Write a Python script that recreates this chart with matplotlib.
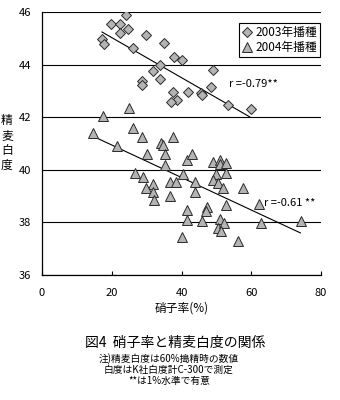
import matplotlib
matplotlib.use("Agg")
import matplotlib.pyplot as plt

plt.rcParams['font.family'] = ['Noto Sans CJK JP', 'DejaVu Sans']

# 2003 sowing (diamonds)
x2003 = [24.1, 19.7, 22.3, 22.3, 24.8, 17.2, 17.8, 26.1, 29.8, 35.0, 37.8, 40.0,
         33.8, 31.8, 33.8, 28.7, 28.7, 37.7, 41.8, 45.6, 45.8, 38.7, 37.0, 48.9,
         48.6, 53.2, 59.9]
y2003 = [45.89, 45.53, 45.53, 45.22, 45.35, 44.97, 44.78, 44.62, 45.11, 44.82, 44.29, 44.17,
         43.97, 43.77, 43.46, 43.36, 43.24, 42.96, 42.96, 42.91, 42.83, 42.67, 42.58, 43.78,
         43.15, 42.45, 42.30]

# 2004 sowing (triangles)
x2004 = [25.0, 17.4, 26.2, 14.6, 21.6, 28.8, 37.7, 34.0, 34.8, 30.0, 35.2, 35.2,
         26.6, 29.0, 31.9, 29.8, 31.8, 32.1, 36.7, 38.3, 36.7, 40.5, 41.5, 43.0,
         41.5, 41.5, 40.2, 49.1, 51.0, 51.1, 52.9, 50.0, 52.9, 49.1, 50.6, 52.0,
         43.9, 43.9, 57.5, 47.2, 47.0, 52.9, 62.3, 46.0, 51.1, 50.4, 52.1, 51.3,
         56.2, 62.8, 74.3]
y2004 = [42.36, 42.03, 41.60, 41.40, 40.89, 41.26, 41.26, 41.03, 40.95, 40.61, 40.61, 40.20,
         39.89, 39.73, 39.45, 39.30, 39.14, 38.84, 39.53, 39.53, 39.02, 39.85, 40.37, 40.59,
         38.48, 38.10, 37.46, 40.31, 40.39, 40.21, 40.26, 39.85, 39.88, 39.60, 39.50, 39.32,
         39.53, 39.15, 39.31, 38.60, 38.44, 38.65, 38.71, 38.06, 38.12, 37.78, 37.97, 37.66,
         37.28, 37.97, 38.06]

# regression lines (end points)
trend03_x = [17.2, 59.6]
trend03_y = [45.24, 42.01]
trend04_x = [14.7, 74.1]
trend04_y = [41.27, 37.60]

series_labels = ['2003年播種', '2004年播種']
r_labels = ['r =-0.79**', 'r =-0.61 **']
xticks = [0, 20, 40, 60, 80]
yticks = [36, 38, 40, 42, 44, 46]

fig = plt.figure(figsize=(3.4, 4.0), dpi=100)
ax = fig.add_axes([42/340, 1-275/400, 279/340, 263/400])

face = '#b4b4b4'
edge = '#2a2a2a'
ax.plot(x2003, y2003, linestyle='none', marker='D', ms=5, mfc=face, mec=edge, mew=0.7,
        label=series_labels[0], zorder=3)
ax.plot(x2004, y2004, linestyle='none', marker='^', ms=7.5, mfc=face, mec=edge, mew=0.7,
        label=series_labels[1], zorder=3)
ax.plot(trend03_x, trend03_y, color='black', lw=0.8, zorder=2)
ax.plot(trend04_x, trend04_y, color='black', lw=0.8, zorder=2)

ax.text(53.6, 43.27, r_labels[0], fontsize=8, va='center', ha='left')
ax.text(63.6, 38.74, r_labels[1], fontsize=8, va='center', ha='left')

ax.set_xlim(0, 80)
ax.set_ylim(36, 46)
ax.set_xticks(xticks)
ax.set_yticks(yticks)
ax.tick_params(axis='x', direction='in', length=3, width=0.8, pad=9, labelsize=8)
ax.tick_params(axis='y', length=0, pad=8, labelsize=8)
ax.yaxis.grid(True, color='black', lw=0.8)
ax.set_axisbelow(True)
for s in ['top', 'right']:
    ax.spines[s].set_visible(False)
for s in ['left', 'bottom']:
    ax.spines[s].set_linewidth(0.9)

leg = ax.legend(loc='upper right', bbox_to_anchor=(0.996, 0.958), fontsize=8.5,
                frameon=True, fancybox=False, framealpha=1, edgecolor='black',
                handlelength=0.8, handletextpad=0.3, borderpad=0.25, labelspacing=0.2,
                borderaxespad=0)
leg.get_frame().set_linewidth(0.8)

ax.set_xlabel('硝子率(%)', fontsize=8.5, labelpad=3)
fig.text(7/340, 1-143/400, '精\n麦\n白\n度', fontsize=8.5, ha='center', va='center',
         linespacing=1.2)

fig.text(175/340, 1-343/400, '図4  硝子率と精麦白度の関係', fontsize=10, ha='center', va='center')
fig.text(169/340, 1-359/400, '注)精麦白度は60%搗精時の数値', fontsize=7, ha='center', va='center')
fig.text(169/340, 1-370/400, '白度はK社白度計C-300で測定', fontsize=7, ha='center', va='center')
fig.text(169/340, 1-381/400, '**は1%水準で有意', fontsize=7, ha='center', va='center')

fig.savefig('out.png', dpi=100)
